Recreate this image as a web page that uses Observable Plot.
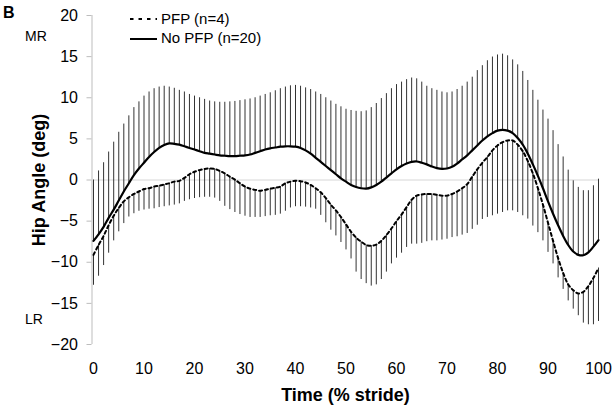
<!DOCTYPE html>
<html><head><meta charset="utf-8">
<script src="https://cdn.jsdelivr.net/npm/d3@7"></script>
<script src="https://cdn.jsdelivr.net/npm/@observablehq/plot@0.6"></script>
<style>
html,body{margin:0;padding:0;background:#fff;}
#chart svg{font-family:Arial,"Liberation Sans",sans-serif;display:block;}
</style></head><body><div id="chart"></div>
<script>
// % stride, every 1%
const stride = d3.range(0, 101);

// No PFP (n=20): mean and mean + SD
const noPfpMean = [
 -7.4,-6.6,-5.7,-4.6,-3.6,-2.5,-1.4,-0.4,0.6,1.4,
 2.1,2.8,3.4,3.9,4.25,4.45,4.4,4.3,4.1,3.9,
 3.7,3.5,3.3,3.2,3.1,3.0,2.95,2.9,2.9,2.95,
 3.0,3.1,3.3,3.5,3.7,3.85,3.95,4.05,4.1,4.1,
 4.05,3.9,3.6,3.2,2.7,2.2,1.7,1.2,0.7,0.2,
 -0.2,-0.6,-0.85,-1.0,-1.05,-0.9,-0.6,-0.2,0.3,0.8,
 1.3,1.7,2.0,2.2,2.25,2.1,1.9,1.65,1.45,1.35,
 1.4,1.6,2.0,2.5,3.0,3.6,4.2,4.8,5.3,5.7,
 6.0,6.1,6.0,5.7,5.1,4.3,3.2,1.9,0.5,-1.0,
 -2.6,-4.1,-5.5,-6.8,-7.9,-8.7,-9.1,-9.15,-8.8,-8.1,
 -7.3];
const noPfpUpper = [
 0.0,1.1,2.1,3.4,4.6,5.8,6.8,7.8,8.8,9.5,
 10.2,10.7,11.1,11.3,11.4,11.3,11.15,10.9,10.7,10.4,
 10.2,10.0,9.8,9.6,9.5,9.45,9.45,9.5,9.55,9.65,
 9.75,9.85,10.0,10.2,10.4,10.6,10.85,11.1,11.3,11.45,
 11.5,11.4,11.2,11.0,10.7,10.4,10.0,9.6,9.2,8.9,
 8.6,8.45,8.35,8.3,8.4,8.8,9.3,9.9,10.5,11.1,
 11.6,11.9,12.2,12.4,12.3,11.9,11.4,11.1,10.9,10.7,
 10.6,10.7,11.0,11.4,11.9,12.5,13.3,13.9,14.5,14.95,
 15.2,15.3,15.1,14.6,14.0,13.2,12.1,10.9,9.7,8.5,
 7.4,6.0,4.3,2.8,1.2,-0.1,-0.9,-1.3,-1.3,-0.7,
 0.1];

// PFP (n=4): mean and mean - SD
const pfpMean = [
 -9.1,-7.9,-6.8,-5.5,-4.35,-3.4,-2.6,-2.1,-1.7,-1.4,
 -1.1,-1.0,-0.8,-0.7,-0.55,-0.4,-0.2,-0.1,0.25,0.7,
 1.0,1.2,1.35,1.4,1.35,1.1,0.8,0.4,0.05,-0.4,
 -0.8,-1.05,-1.2,-1.3,-1.2,-1.05,-0.95,-0.8,-0.4,-0.2,
 -0.1,-0.15,-0.3,-0.6,-1.0,-1.5,-2.2,-3.0,-3.7,-4.5,
 -5.4,-6.3,-7.0,-7.5,-7.9,-8.0,-7.85,-7.4,-6.7,-5.9,
 -5.0,-4.2,-3.3,-2.4,-1.9,-1.75,-1.7,-1.7,-1.8,-1.9,
 -1.9,-1.7,-1.4,-1.0,-0.5,0.4,1.3,2.1,2.8,3.6,
 4.2,4.6,4.8,4.8,4.3,3.5,2.3,0.8,-1.0,-3.0,
 -5.2,-7.4,-9.5,-11.3,-12.7,-13.4,-13.8,-13.6,-12.9,-11.9,
 -10.7];
const pfpLower = [
 -12.8,-11.7,-10.4,-8.9,-7.4,-6.3,-5.3,-4.5,-4.1,-3.8,
 -3.65,-3.55,-3.5,-3.35,-3.25,-3.15,-3.05,-2.9,-2.6,-2.4,
 -2.25,-2.15,-2.1,-2.1,-2.2,-2.6,-3.2,-3.6,-3.95,-4.2,
 -4.4,-4.55,-4.55,-4.55,-4.45,-4.35,-4.3,-4.15,-3.8,-3.4,
 -3.25,-3.25,-3.3,-3.4,-3.55,-4.3,-5.2,-6.1,-6.8,-7.6,
 -8.5,-9.6,-11.2,-12.1,-12.6,-12.9,-12.75,-12.1,-11.2,-10.2,
 -9.5,-8.9,-8.2,-7.8,-7.8,-7.7,-7.5,-7.4,-7.4,-7.3,
 -7.2,-7.0,-6.9,-6.7,-6.5,-6.0,-5.5,-4.8,-4.55,-4.35,
 -4.15,-3.95,-3.75,-3.75,-3.95,-4.35,-4.75,-5.6,-6.4,-7.4,
 -8.8,-10.2,-11.9,-13.3,-14.7,-15.7,-16.5,-17.4,-17.6,-17.6,
 -17.2];

const xTicks = [0,10,20,30,40,50,60,70,80,90,100];
const yTicks = [-20,-15,-10,-5,0,5,10,15,20];
const legendLabels = ["PFP (n=4)", "No PFP (n=20)"];
const panelLabel = "B";
const topLabel = "MR";
const bottomLabel = "LR";
const xTitle = "Time (% stride)";
const yTitle = "Hip Angle (deg)";

const rows = stride.map((x, i) => ({
  x, noMean: noPfpMean[i], noUp: noPfpUpper[i], pMean: pfpMean[i], pLow: pfpLower[i]
}));

const chart = Plot.plot({
  width: 615, height: 409,
  marginLeft: 93, marginRight: 17, marginTop: 15, marginBottom: 65,
  style: {fontFamily: "Arial, 'Liberation Sans', sans-serif", fontSize: "16px", color: "#000", background: "#fff"},
  x: {domain: [0, 100]},
  y: {domain: [-20, 20]},
  marks: [
    Plot.ruleY([0], {stroke: "#d6d6d6", strokeWidth: 1}),
    Plot.ruleX([0], {stroke: "#bdbdbd", strokeWidth: 1, dx: -1.5}),
    Plot.axisY({ticks: yTicks, tickSize: 5, tickPadding: 9, stroke: "#bdbdbd", fill: "#000", label: null, dx: -1.5, fontSize: 16}),
    Plot.axisX({ticks: xTicks, tickSize: 0, tickPadding: 18, label: null, fill: "#000", fontSize: 16}),
    Plot.ruleX(rows, {x: "x", y1: "noMean", y2: "noUp", stroke: "#333", strokeWidth: 1}),
    Plot.ruleX(rows, {x: "x", y1: "pMean", y2: "pLow", stroke: "#333", strokeWidth: 1}),
    Plot.line(rows, {x: "x", y: "noMean", stroke: "#000", strokeWidth: 2.2, curve: "catmull-rom"}),
    Plot.line(rows, {x: "x", y: "pMean", stroke: "#000", strokeWidth: 2, strokeDasharray: "3,3", curve: "catmull-rom"})
  ]
});

const svg = d3.select(chart);
const font = "Arial, 'Liberation Sans', sans-serif";
function txt(x, y, s, size, weight, anchor, extra) {
  const t = svg.append("text").attr("x", x).attr("y", y).text(s)
    .attr("font-family", font).attr("font-size", size).attr("font-weight", weight || "normal")
    .attr("text-anchor", anchor || "start").attr("fill", "#000");
  if (extra) extra(t);
  return t;
}
txt(3, 18, panelLabel, 16, "bold");
txt(25, 41, topLabel, 14);
txt(25, 324, bottomLabel, 14);
txt(345.5, 401, xTitle, 18, "bold", "middle");
txt(0, 0, yTitle, 18, "bold", "middle", t => t.attr("transform", "translate(45,180) rotate(-90)"));

// legend
const lg = svg.append("g");
lg.append("line").attr("x1", 130).attr("x2", 157).attr("y1", 19).attr("y2", 19)
  .attr("stroke", "#000").attr("stroke-width", 2).attr("stroke-dasharray", "3.5,5");
lg.append("line").attr("x1", 130).attr("x2", 157).attr("y1", 39).attr("y2", 39)
  .attr("stroke", "#000").attr("stroke-width", 2);
txt(161, 24, legendLabels[0], 15);
txt(161, 43, legendLabels[1], 15);

document.getElementById("chart").appendChild(chart);
</script></body></html>
